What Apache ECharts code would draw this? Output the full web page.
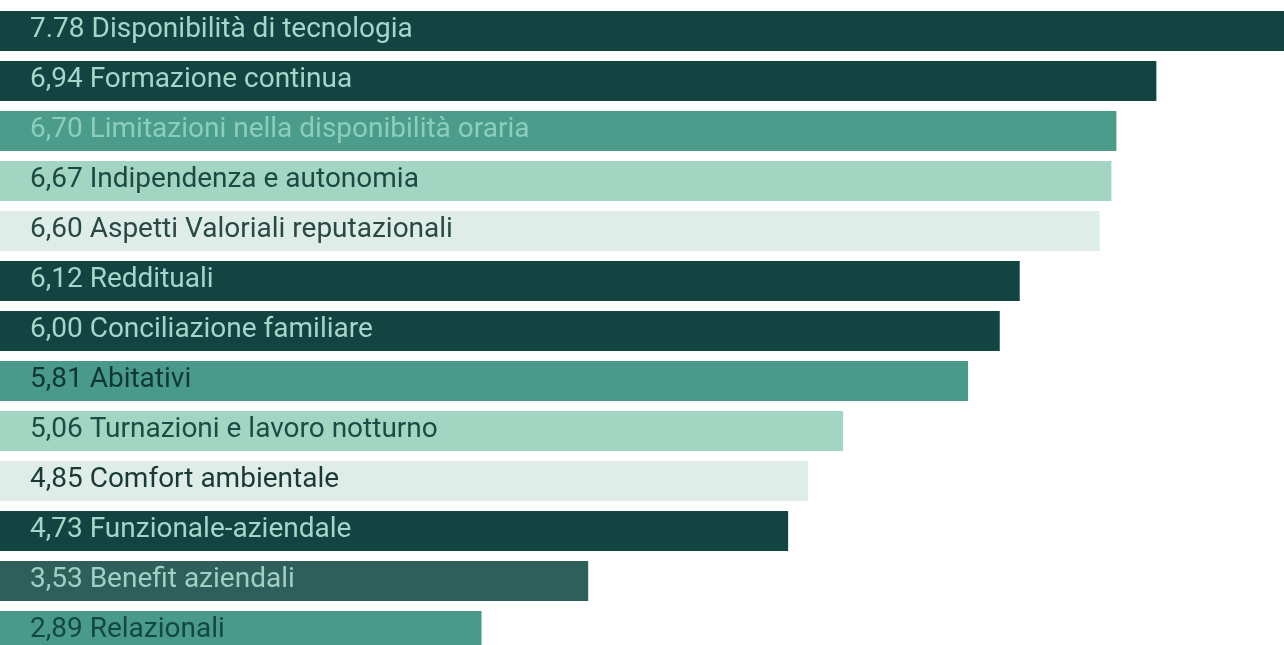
<!DOCTYPE html>
<html>
<head>
<meta charset="utf-8">
<script src="https://cdn.jsdelivr.net/npm/echarts@6/dist/echarts.min.js"></script>
<style>
html,body{margin:0;padding:0;background:#ffffff;}
#chart{width:1284px;height:645px;}
</style>
</head>
<body>
<div id="chart"></div>
<script>
const categories = [
  "Disponibilità di tecnologia",
  "Formazione continua",
  "Limitazioni nella disponibilità oraria",
  "Indipendenza e autonomia",
  "Aspetti Valoriali reputazionali",
  "Reddituali",
  "Conciliazione familiare",
  "Abitativi",
  "Turnazioni e lavoro notturno",
  "Comfort ambientale",
  "Funzionale-aziendale",
  "Benefit aziendali",
  "Relazionali"
];
const values = [7.78, 6.94, 6.70, 6.67, 6.60, 6.12, 6.00, 5.81, 5.06, 4.85, 4.73, 3.53, 2.89];
const valueLabels = ["7.78", "6,94", "6,70", "6,67", "6,60", "6,12", "6,00", "5,81", "5,06", "4,85", "4,73", "3,53", "2,89"];

const barColors = ["#124541", "#124541", "#4c9c8c", "#a3d5c3", "#deede8", "#124541", "#124541", "#4a9a8b", "#a3d5c3", "#deede8", "#124541", "#2f5f5a", "#4a9a8b"];
const textColors = ["#a8d5c9", "#a8d5c9", "#8bcfbb", "#1c4a43", "#2a4944", "#a8d5c9", "#a8d5c9", "#0f3833", "#1d4c44", "#1a3834", "#a8d5c9", "#a0cfc3", "#124840"];

const chart = echarts.init(document.getElementById('chart'), null, {renderer: 'canvas'});
chart.setOption({
  animation: false,
  backgroundColor: '#ffffff',
  grid: {left: 0, top: 6, width: 1333, height: 650, containLabel: false, outerBoundsMode: 'none'},
  xAxis: {type: 'value', min: 0, max: 8, show: false},
  yAxis: {type: 'category', data: categories, inverse: true, show: false},
  series: [{
    type: 'bar',
    barWidth: 40,
    clip: false,
    data: values.map((v, i) => ({
      value: v,
      itemStyle: {color: barColors[i]},
      label: {color: textColors[i]}
    })),
    label: {
      show: true,
      position: 'insideLeft',
      distance: 30,
      offset: [0, -1],
      fontFamily: 'Roboto',
      fontSize: 28,
      formatter: p => valueLabels[p.dataIndex] + ' ' + categories[p.dataIndex]
    }
  }]
});
</script>
</body>
</html>
